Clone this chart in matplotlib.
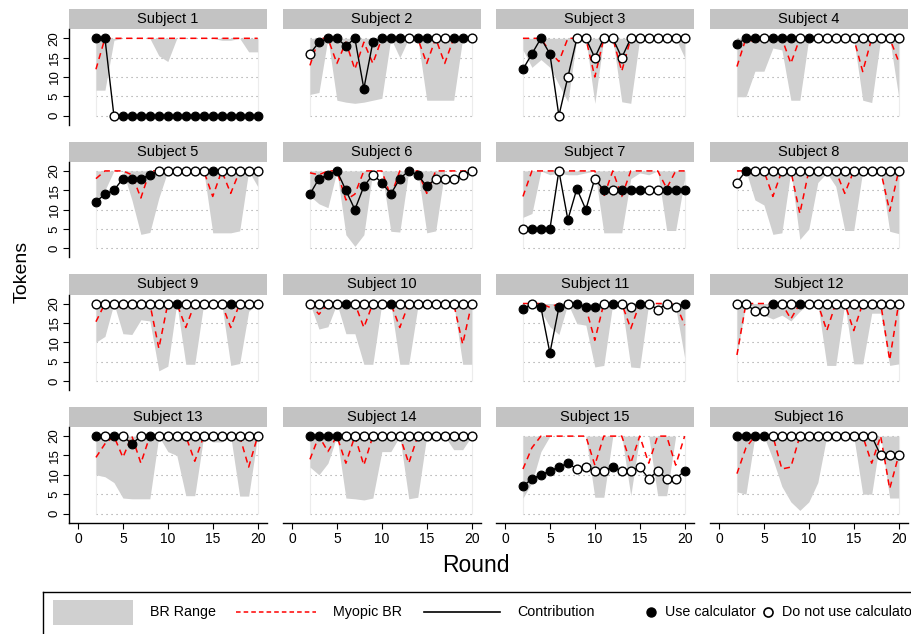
import matplotlib.pyplot as plt
from matplotlib.patches import Rectangle

plt.rcParams['font.family'] = ['Liberation Sans', 'DejaVu Sans']

# rounds shown in every panel
rounds = [2, 3, 4, 5, 6, 7, 8, 9, 10, 11, 12, 13, 14, 15, 16, 17, 18, 19, 20]
ENDOWMENT = 20  # upper edge of the BR range
subjects = ['Subject %d' % k for k in range(1, 17)]

# lower edge of the best-response range, one list per subject
br_low = [
    [6.6, 6.6, 19.5, 20, 20, 20, 20, 15.5, 14, 20, 20, 20, 20, 20, 19.5, 19.5, 20, 16.5, 16.5],
    [5.5, 6, 20, 4, 3.5, 3.2, 3.5, 4, 4.5, 20, 15, 20, 20, 4, 4, 4, 4, 20, 20],
    [17, 12.5, 14.5, 12.5, 8, 3.6, 20, 20, 3.2, 20, 20, 3.6, 3.2, 20, 20, 20, 20, 20, 15],
    [4.9, 4.9, 11.5, 11.5, 17.5, 17, 4, 4, 20, 20, 20, 20, 20, 20, 4, 3.4, 20, 20, 4.9],
    [11, 15, 20, 20, 12.5, 3.6, 4.1, 13, 20, 20, 20, 20, 20, 4, 4, 4, 4.5, 20, 16],
    [13.5, 11.5, 10.5, 20, 3.5, 0.5, 3.5, 20, 20, 4.4, 4.2, 20, 20, 4, 4.5, 20, 20, 20, 20],
    [8, 9, 20, 19, 19.5, 19, 19, 19.5, 20, 4, 4, 4, 18, 19.5, 19, 20, 4.6, 4.6, 18],
    [20, 20, 12.5, 11.2, 3.6, 4, 20, 2.3, 5, 17, 19.5, 16, 4.6, 4.6, 20, 20, 20, 4.4, 3.8],
    [10, 11.5, 20, 12.2, 12, 15.8, 15.5, 2.6, 3.8, 20, 4.3, 4.3, 20, 20, 20, 4, 4.5, 18, 20],
    [20, 13.4, 14, 20, 12.2, 12.2, 4.3, 4.3, 20, 20, 4.3, 4.3, 19, 19, 20, 20, 20, 4.3, 4.3],
    [20, 20, 18, 14, 12, 20, 14.8, 14.4, 3.6, 4, 20, 20, 3.6, 3.4, 20, 20, 19, 19, 6],
    [6.7, 20, 19, 17, 16, 17, 15.5, 18, 20, 20, 4, 4, 20, 4.4, 4.4, 17.5, 17.5, 4, 4.4],
    [10, 9.5, 8, 4, 3.8, 3.8, 3.8, 20, 16, 15, 4.6, 4.6, 20, 18.5, 18.5, 20, 4.5, 4.5, 20],
    [12, 10, 13, 20, 4, 3.8, 3.5, 4, 16, 16, 20, 3.8, 4.2, 20, 20, 20, 16.5, 16.5, 20],
    [4, 8, 16, 20, 20, 20, 20, 20, 4.2, 4.2, 20, 20, 4.6, 20, 20, 4.6, 4.6, 20, 20],
    [5.6, 5, 20, 20, 14, 7, 3, 0.8, 3, 8, 20, 20, 20, 20, 5, 5, 20, 4, 4],
]

# myopic best response
myopic = [
    [12, 20, 20, 20, 20, 20, 20, 20, 20, 20, 20, 20, 20, 20, 20, 20, 20, 20, 20],
    [13, 20, 20, 13.5, 19, 12, 19, 13.5, 20, 20, 20, 20, 20, 13.5, 20, 13.5, 20, 20, 20],
    [20, 20, 20, 16.5, 14, 20, 20, 20, 10, 20, 20, 11.5, 20, 20, 20, 20, 20, 20, 20],
    [12.7, 20, 19, 20, 20, 20, 13.5, 20, 20, 20, 20, 20, 20, 20, 11.4, 20, 20, 20, 14],
    [18, 20, 20, 20, 19, 13, 20, 20, 20, 20, 20, 20, 20, 13.4, 20, 14.2, 20, 20, 20],
    [19.5, 19, 20, 20, 12.5, 14, 20, 20, 20, 13.4, 20, 20, 20, 14.2, 20, 20, 20, 20, 20],
    [13.4, 20, 20, 20, 20, 20, 20, 20, 20, 13.4, 20, 13.4, 20, 20, 20, 20, 15.5, 20, 20],
    [20, 20, 19, 20, 13.4, 20, 20, 9, 20, 20, 20, 20, 14.2, 20, 20, 20, 20, 9.6, 20],
    [15.3, 20, 20, 18.7, 20, 20, 20, 8.4, 20, 20, 13.8, 20, 20, 20, 20, 13.8, 20, 20, 20],
    [20, 17.2, 20, 20, 19, 20, 13.8, 20, 20, 20, 13.8, 20, 20, 20, 20, 20, 20, 9.5, 20],
    [20, 20, 20, 19, 20, 20, 20, 19, 10.5, 20, 20, 20, 13.5, 20, 20, 20, 20, 20, 14.4],
    [6.7, 20, 20, 20, 20, 20, 16, 20, 20, 20, 13, 20, 20, 13, 20, 20, 20, 5.4, 20],
    [14.5, 18, 20, 14.5, 20, 13, 20, 20, 20, 20, 20, 13.5, 20, 20, 20, 20, 20, 12, 20],
    [14, 20, 16, 20, 13, 20, 12.5, 20, 20, 20, 20, 13, 20, 20, 20, 20, 20, 20, 20],
    [11.5, 17, 20, 20, 20, 20, 20, 20, 12.5, 20, 20, 20, 13, 20, 13, 20, 20, 12.5, 20],
    [10.3, 17, 20, 20, 20, 11.5, 12, 20, 20, 20, 20, 20, 20, 20, 20, 13, 20, 6.4, 15],
]

# tokens contributed
contribution = [
    [20, 20, 0, 0, 0, 0, 0, 0, 0, 0, 0, 0, 0, 0, 0, 0, 0, 0, 0],
    [16, 19, 20, 20, 18, 20, 7, 19, 20, 20, 20, 20, 20, 20, 20, 20, 20, 20, 20],
    [12, 16, 20, 16, 0, 10, 20, 20, 15, 20, 20, 15, 20, 20, 20, 20, 20, 20, 20],
    [18.5, 20, 20, 20, 20, 20, 20, 20, 20, 20, 20, 20, 20, 20, 20, 20, 20, 20, 20],
    [12, 14, 15, 18, 18, 18, 19, 20, 20, 20, 20, 20, 20, 20, 20, 20, 20, 20, 20],
    [14, 18, 19, 20, 15, 10, 16, 19, 17, 14, 18, 20, 19, 16, 18, 18, 18, 19, 20],
    [5, 5, 5, 5, 20, 7.4, 15.4, 10, 18, 15, 15, 15, 15, 15, 15, 15, 15, 15, 15],
    [17, 20, 20, 20, 20, 20, 20, 20, 20, 20, 20, 20, 20, 20, 20, 20, 20, 20, 20],
    [20, 20, 20, 20, 20, 20, 20, 20, 20, 20, 20, 20, 20, 20, 20, 20, 20, 20, 20],
    [20, 20, 20, 20, 20, 20, 20, 20, 20, 20, 20, 20, 20, 20, 20, 20, 20, 20, 20],
    [18.5, 20, 19, 7.2, 19, 20, 20, 19, 19, 20, 20, 20, 19, 20, 20, 18.4, 20, 19, 20],
    [20, 20, 18, 18, 20, 20, 20, 20, 20, 20, 20, 20, 20, 20, 20, 20, 20, 20, 20],
    [20, 20, 20, 20, 18, 20, 20, 20, 20, 20, 20, 20, 20, 20, 20, 20, 20, 20, 20],
    [20, 20, 20, 20, 20, 20, 20, 20, 20, 20, 20, 20, 20, 20, 20, 20, 20, 20, 20],
    [7, 9, 10, 11, 12, 13, 11.5, 12, 11, 11, 12, 11, 11, 12, 9, 11, 9, 9, 11],
    [20, 20, 20, 20, 20, 20, 20, 20, 20, 20, 20, 20, 20, 20, 20, 20, 15, 15, 15],
]

# 1 = used the calculator in that round
used_calc = [
    [1, 1, 0, 1, 1, 1, 1, 1, 1, 1, 1, 1, 1, 1, 1, 1, 1, 1, 1],
    [0, 1, 1, 1, 1, 1, 1, 1, 1, 1, 1, 0, 1, 1, 0, 0, 1, 1, 0],
    [1, 1, 1, 1, 0, 0, 0, 0, 0, 0, 0, 0, 0, 0, 0, 0, 0, 0, 0],
    [1, 1, 1, 0, 1, 1, 1, 0, 1, 0, 0, 0, 0, 0, 0, 0, 0, 0, 0],
    [1, 1, 1, 1, 1, 1, 1, 0, 0, 0, 0, 0, 0, 1, 0, 0, 0, 0, 0],
    [1, 1, 1, 1, 1, 1, 1, 0, 1, 1, 1, 1, 1, 1, 0, 0, 0, 0, 0],
    [0, 1, 1, 1, 0, 1, 1, 1, 0, 1, 0, 1, 1, 1, 0, 0, 1, 1, 1],
    [0, 1, 0, 0, 0, 0, 0, 0, 0, 0, 0, 0, 0, 0, 0, 0, 0, 0, 0],
    [0, 0, 0, 0, 0, 0, 0, 0, 0, 1, 0, 0, 0, 0, 0, 1, 0, 0, 0],
    [0, 0, 0, 0, 1, 0, 0, 0, 0, 1, 0, 0, 0, 0, 0, 0, 0, 0, 0],
    [1, 0, 1, 1, 1, 0, 1, 1, 1, 0, 1, 0, 0, 1, 0, 0, 0, 0, 1],
    [0, 0, 0, 0, 1, 0, 0, 1, 0, 0, 0, 0, 0, 0, 0, 0, 0, 0, 0],
    [1, 0, 1, 0, 1, 0, 1, 0, 0, 0, 0, 0, 0, 0, 0, 0, 0, 0, 0],
    [1, 1, 1, 1, 0, 0, 0, 0, 0, 0, 0, 0, 0, 0, 0, 0, 0, 0, 0],
    [1, 1, 1, 1, 1, 1, 0, 0, 0, 0, 1, 0, 0, 0, 0, 0, 0, 0, 1],
    [1, 1, 1, 1, 0, 0, 0, 0, 0, 0, 0, 0, 0, 0, 0, 0, 0, 0, 0],
]

W, H = 911, 634
fig = plt.figure(figsize=(W / 100, H / 100), dpi=100)

col_left = [69, 283, 496, 710]   # px
ax_w, ax_h = 198, 95.5
row_top = 29.3
row_step = 132.6
strip_h = 20.3

STRIP = '#c3c3c3'
FILL = '#d0d0d0'

for i in range(16):
    r, c = divmod(i, 4)
    top = row_top + r * row_step
    ax = fig.add_axes([col_left[c] / W, 1 - (top + ax_h) / H, ax_w / W, ax_h / H])
    ax.set_xlim(-1.0, 21.04)
    ax.set_ylim(-2.35, 22.33)

    # plot region lines
    ax.hlines([0, 5, 10, 15, 20], 2, 20, colors='#9a9a9a', linestyles=(0, (1, 3.5)), lw=0.8, zorder=0)
    ax.vlines([2, 20], 0, 20, colors='#ececec', lw=0.8, zorder=0)

    ax.fill_between(rounds, br_low[i], ENDOWMENT, color=FILL, lw=0, zorder=1)
    ax.plot(rounds, myopic[i], color='red', ls=(0, (4, 3)), lw=1.1, zorder=2)
    ax.plot(rounds, contribution[i], color='black', lw=1.0, zorder=3)

    xf = [x for x, u in zip(rounds, used_calc[i]) if u == 1]
    yf = [y for y, u in zip(contribution[i], used_calc[i]) if u == 1]
    xo = [x for x, u in zip(rounds, used_calc[i]) if u == 0]
    yo = [y for y, u in zip(contribution[i], used_calc[i]) if u == 0]
    ax.plot(xf, yf, 'o', ms=6.3, mfc='black', mec='black', mew=0.8, zorder=4, clip_on=False)
    ax.plot(xo, yo, 'o', ms=6.3, mfc='white', mec='black', mew=1.0, zorder=4, clip_on=False)

    # strip title
    ax.add_patch(Rectangle((0, 1), 1, strip_h / ax_h, transform=ax.transAxes,
                           color=STRIP, lw=0, clip_on=False))
    ax.text(0.5, 1 + strip_h / ax_h / 2, subjects[i], transform=ax.transAxes,
            ha='center', va='center', fontsize=10.5)

    for s in ['top', 'right', 'left', 'bottom']:
        ax.spines[s].set_visible(False)

    if c == 0:
        ax.spines['left'].set_visible(True)
        ax.spines['left'].set_linewidth(1.0)
        ax.set_yticks([0, 5, 10, 15, 20])
        ax.tick_params(axis='y', length=4, width=0.8, labelsize=9.5, pad=2)
        for lab in ax.get_yticklabels():
            lab.set_rotation(90)
            lab.set_va('center')
    else:
        ax.set_yticks([])

    if r == 3:
        ax.spines['bottom'].set_visible(True)
        ax.spines['bottom'].set_linewidth(1.0)
        ax.set_xticks([0, 5, 10, 15, 20])
        ax.tick_params(axis='x', length=4, width=0.8, labelsize=10, pad=3)
    else:
        ax.set_xticks([])

fig.text(22 / W, 1 - 272 / H, 'Tokens', rotation=90, ha='center', va='center', fontsize=14)
fig.text(476 / W, 1 - 566 / H, 'Round', ha='center', va='center', fontsize=16.5)

# legend box, running off the right and bottom edges like the original
lax = fig.add_axes([43 / W, -40 / H, 1.0, (634 - 592 + 40) / H])
lax.set_xlim(43, 43 + W)
lax.set_ylim(634 + 40, 592)
lax.set_xticks([])
lax.set_yticks([])
for s in lax.spines.values():
    s.set_linewidth(1.0)
ly = 612
lax.add_patch(Rectangle((53, 600), 80, 25, color=FILL, lw=0))
lax.text(150, ly, 'BR Range', va='center', fontsize=10.3)
lax.plot([236, 316], [ly, ly], color='red', ls=(0, (3, 2)), lw=1.1)
lax.text(333, ly, 'Myopic BR', va='center', fontsize=10.3)
lax.plot([424, 500], [ly, ly], color='black', lw=1.2)
lax.text(517, ly, 'Contribution', va='center', fontsize=10.3)
lax.plot([651], [ly], 'o', ms=6.5, mfc='black', mec='black')
lax.text(665, ly, 'Use calculator', va='center', fontsize=10.3)
lax.plot([768], [ly], 'o', ms=6.5, mfc='white', mec='black', mew=1.2)
lax.text(782, ly, 'Do not use calculator', va='center', fontsize=10.3)

fig.savefig('out.png', dpi=100)
